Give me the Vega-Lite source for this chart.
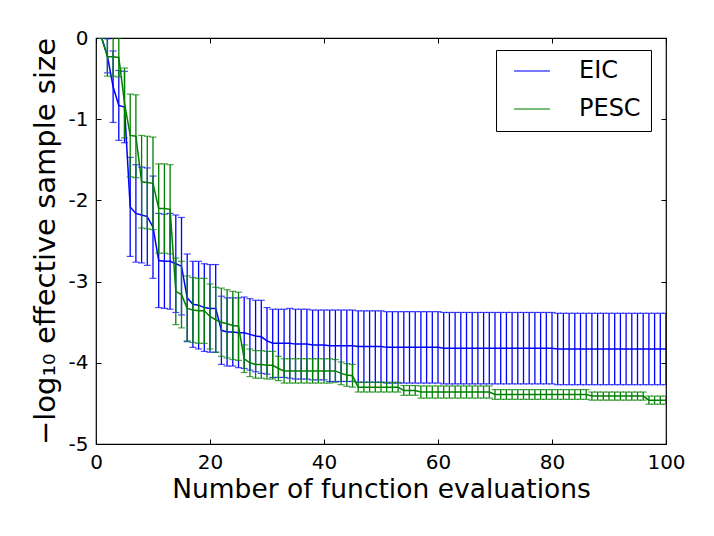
{
  "$schema": "https://vega.github.io/schema/vega-lite/v6.json",
  "description": "EIC vs PESC, -log10 effective sample size against number of function evaluations.",
  "width": 570,
  "height": 406,
  "autosize": "none",
  "padding": {"left": 96, "top": 38, "right": 48, "bottom": 92},
  "background": "white",
  "data": {
    "values": [
      {"x": 1, "s": "EIC", "m": 0, "e": 0},
      {"x": 2, "s": "EIC", "m": -0.22, "e": 0.21},
      {"x": 3, "s": "EIC", "m": -0.6, "e": 0.44},
      {"x": 4, "s": "EIC", "m": -0.83, "e": 0.43},
      {"x": 5, "s": "EIC", "m": -0.85, "e": 0.44},
      {"x": 6, "s": "EIC", "m": -2.08, "e": 0.61},
      {"x": 7, "s": "EIC", "m": -2.16, "e": 0.6},
      {"x": 8, "s": "EIC", "m": -2.18, "e": 0.59},
      {"x": 9, "s": "EIC", "m": -2.2, "e": 0.6},
      {"x": 10, "s": "EIC", "m": -2.33, "e": 0.63},
      {"x": 11, "s": "EIC", "m": -2.74, "e": 0.58},
      {"x": 12, "s": "EIC", "m": -2.75, "e": 0.58},
      {"x": 13, "s": "EIC", "m": -2.75, "e": 0.59},
      {"x": 14, "s": "EIC", "m": -2.78, "e": 0.6},
      {"x": 15, "s": "EIC", "m": -2.81, "e": 0.6},
      {"x": 16, "s": "EIC", "m": -3.2, "e": 0.54},
      {"x": 17, "s": "EIC", "m": -3.28, "e": 0.53},
      {"x": 18, "s": "EIC", "m": -3.29, "e": 0.54},
      {"x": 19, "s": "EIC", "m": -3.32, "e": 0.54},
      {"x": 20, "s": "EIC", "m": -3.33, "e": 0.54},
      {"x": 21, "s": "EIC", "m": -3.33, "e": 0.54},
      {"x": 22, "s": "EIC", "m": -3.6, "e": 0.42},
      {"x": 23, "s": "EIC", "m": -3.62, "e": 0.42},
      {"x": 24, "s": "EIC", "m": -3.62, "e": 0.42},
      {"x": 25, "s": "EIC", "m": -3.63, "e": 0.43},
      {"x": 26, "s": "EIC", "m": -3.63, "e": 0.44},
      {"x": 27, "s": "EIC", "m": -3.65, "e": 0.44},
      {"x": 28, "s": "EIC", "m": -3.67, "e": 0.44},
      {"x": 29, "s": "EIC", "m": -3.68, "e": 0.45},
      {"x": 30, "s": "EIC", "m": -3.73, "e": 0.41},
      {"x": 31, "s": "EIC", "m": -3.76, "e": 0.42},
      {"x": 32, "s": "EIC", "m": -3.76, "e": 0.42},
      {"x": 33, "s": "EIC", "m": -3.76, "e": 0.42},
      {"x": 34, "s": "EIC", "m": -3.76, "e": 0.43},
      {"x": 35, "s": "EIC", "m": -3.77, "e": 0.43},
      {"x": 36, "s": "EIC", "m": -3.77, "e": 0.43},
      {"x": 37, "s": "EIC", "m": -3.77, "e": 0.43},
      {"x": 38, "s": "EIC", "m": -3.78, "e": 0.43},
      {"x": 39, "s": "EIC", "m": -3.78, "e": 0.43},
      {"x": 40, "s": "EIC", "m": -3.78, "e": 0.43},
      {"x": 41, "s": "EIC", "m": -3.79, "e": 0.44},
      {"x": 42, "s": "EIC", "m": -3.79, "e": 0.44},
      {"x": 43, "s": "EIC", "m": -3.79, "e": 0.44},
      {"x": 44, "s": "EIC", "m": -3.79, "e": 0.44},
      {"x": 45, "s": "EIC", "m": -3.79, "e": 0.44},
      {"x": 46, "s": "EIC", "m": -3.8, "e": 0.44},
      {"x": 47, "s": "EIC", "m": -3.8, "e": 0.44},
      {"x": 48, "s": "EIC", "m": -3.8, "e": 0.44},
      {"x": 49, "s": "EIC", "m": -3.8, "e": 0.44},
      {"x": 50, "s": "EIC", "m": -3.8, "e": 0.44},
      {"x": 51, "s": "EIC", "m": -3.81, "e": 0.44},
      {"x": 52, "s": "EIC", "m": -3.81, "e": 0.44},
      {"x": 53, "s": "EIC", "m": -3.81, "e": 0.44},
      {"x": 54, "s": "EIC", "m": -3.81, "e": 0.44},
      {"x": 55, "s": "EIC", "m": -3.81, "e": 0.44},
      {"x": 56, "s": "EIC", "m": -3.81, "e": 0.44},
      {"x": 57, "s": "EIC", "m": -3.81, "e": 0.44},
      {"x": 58, "s": "EIC", "m": -3.81, "e": 0.44},
      {"x": 59, "s": "EIC", "m": -3.81, "e": 0.44},
      {"x": 60, "s": "EIC", "m": -3.81, "e": 0.44},
      {"x": 61, "s": "EIC", "m": -3.82, "e": 0.44},
      {"x": 62, "s": "EIC", "m": -3.82, "e": 0.44},
      {"x": 63, "s": "EIC", "m": -3.82, "e": 0.44},
      {"x": 64, "s": "EIC", "m": -3.82, "e": 0.44},
      {"x": 65, "s": "EIC", "m": -3.82, "e": 0.44},
      {"x": 66, "s": "EIC", "m": -3.82, "e": 0.44},
      {"x": 67, "s": "EIC", "m": -3.82, "e": 0.44},
      {"x": 68, "s": "EIC", "m": -3.82, "e": 0.44},
      {"x": 69, "s": "EIC", "m": -3.82, "e": 0.44},
      {"x": 70, "s": "EIC", "m": -3.82, "e": 0.44},
      {"x": 71, "s": "EIC", "m": -3.82, "e": 0.44},
      {"x": 72, "s": "EIC", "m": -3.82, "e": 0.44},
      {"x": 73, "s": "EIC", "m": -3.82, "e": 0.44},
      {"x": 74, "s": "EIC", "m": -3.82, "e": 0.44},
      {"x": 75, "s": "EIC", "m": -3.82, "e": 0.44},
      {"x": 76, "s": "EIC", "m": -3.82, "e": 0.44},
      {"x": 77, "s": "EIC", "m": -3.82, "e": 0.44},
      {"x": 78, "s": "EIC", "m": -3.82, "e": 0.44},
      {"x": 79, "s": "EIC", "m": -3.82, "e": 0.44},
      {"x": 80, "s": "EIC", "m": -3.82, "e": 0.44},
      {"x": 81, "s": "EIC", "m": -3.83, "e": 0.44},
      {"x": 82, "s": "EIC", "m": -3.83, "e": 0.44},
      {"x": 83, "s": "EIC", "m": -3.83, "e": 0.44},
      {"x": 84, "s": "EIC", "m": -3.83, "e": 0.44},
      {"x": 85, "s": "EIC", "m": -3.83, "e": 0.44},
      {"x": 86, "s": "EIC", "m": -3.83, "e": 0.44},
      {"x": 87, "s": "EIC", "m": -3.83, "e": 0.44},
      {"x": 88, "s": "EIC", "m": -3.83, "e": 0.44},
      {"x": 89, "s": "EIC", "m": -3.83, "e": 0.44},
      {"x": 90, "s": "EIC", "m": -3.83, "e": 0.44},
      {"x": 91, "s": "EIC", "m": -3.83, "e": 0.44},
      {"x": 92, "s": "EIC", "m": -3.83, "e": 0.44},
      {"x": 93, "s": "EIC", "m": -3.83, "e": 0.44},
      {"x": 94, "s": "EIC", "m": -3.83, "e": 0.44},
      {"x": 95, "s": "EIC", "m": -3.83, "e": 0.44},
      {"x": 96, "s": "EIC", "m": -3.83, "e": 0.44},
      {"x": 97, "s": "EIC", "m": -3.83, "e": 0.44},
      {"x": 98, "s": "EIC", "m": -3.83, "e": 0.44},
      {"x": 99, "s": "EIC", "m": -3.83, "e": 0.44},
      {"x": 100, "s": "EIC", "m": -3.83, "e": 0.44},
      {"x": 1, "s": "PESC", "m": 0, "e": 0},
      {"x": 2, "s": "PESC", "m": -0.23, "e": 0.24},
      {"x": 3, "s": "PESC", "m": -0.23, "e": 0.24},
      {"x": 4, "s": "PESC", "m": -0.24, "e": 0.24},
      {"x": 5, "s": "PESC", "m": -0.8, "e": 0.43},
      {"x": 6, "s": "PESC", "m": -1.2, "e": 0.51},
      {"x": 7, "s": "PESC", "m": -1.21, "e": 0.51},
      {"x": 8, "s": "PESC", "m": -1.77, "e": 0.57},
      {"x": 9, "s": "PESC", "m": -1.78, "e": 0.57},
      {"x": 10, "s": "PESC", "m": -1.79, "e": 0.57},
      {"x": 11, "s": "PESC", "m": -2.1, "e": 0.55},
      {"x": 12, "s": "PESC", "m": -2.1, "e": 0.55},
      {"x": 13, "s": "PESC", "m": -2.11, "e": 0.55},
      {"x": 14, "s": "PESC", "m": -3.12, "e": 0.41},
      {"x": 15, "s": "PESC", "m": -3.16, "e": 0.41},
      {"x": 16, "s": "PESC", "m": -3.33, "e": 0.4},
      {"x": 17, "s": "PESC", "m": -3.35, "e": 0.4},
      {"x": 18, "s": "PESC", "m": -3.36, "e": 0.4},
      {"x": 19, "s": "PESC", "m": -3.36, "e": 0.4},
      {"x": 20, "s": "PESC", "m": -3.43, "e": 0.4},
      {"x": 21, "s": "PESC", "m": -3.47, "e": 0.4},
      {"x": 22, "s": "PESC", "m": -3.5, "e": 0.42},
      {"x": 23, "s": "PESC", "m": -3.52, "e": 0.42},
      {"x": 24, "s": "PESC", "m": -3.54, "e": 0.42},
      {"x": 25, "s": "PESC", "m": -3.55, "e": 0.42},
      {"x": 26, "s": "PESC", "m": -3.95, "e": 0.17},
      {"x": 27, "s": "PESC", "m": -4.0, "e": 0.17},
      {"x": 28, "s": "PESC", "m": -4.02, "e": 0.17},
      {"x": 29, "s": "PESC", "m": -4.02, "e": 0.17},
      {"x": 30, "s": "PESC", "m": -4.03, "e": 0.17},
      {"x": 31, "s": "PESC", "m": -4.03, "e": 0.17},
      {"x": 32, "s": "PESC", "m": -4.07, "e": 0.15},
      {"x": 33, "s": "PESC", "m": -4.1, "e": 0.15},
      {"x": 34, "s": "PESC", "m": -4.1, "e": 0.15},
      {"x": 35, "s": "PESC", "m": -4.1, "e": 0.15},
      {"x": 36, "s": "PESC", "m": -4.1, "e": 0.15},
      {"x": 37, "s": "PESC", "m": -4.1, "e": 0.15},
      {"x": 38, "s": "PESC", "m": -4.1, "e": 0.15},
      {"x": 39, "s": "PESC", "m": -4.1, "e": 0.15},
      {"x": 40, "s": "PESC", "m": -4.1, "e": 0.15},
      {"x": 41, "s": "PESC", "m": -4.1, "e": 0.15},
      {"x": 42, "s": "PESC", "m": -4.1, "e": 0.14},
      {"x": 43, "s": "PESC", "m": -4.13, "e": 0.14},
      {"x": 44, "s": "PESC", "m": -4.15, "e": 0.14},
      {"x": 45, "s": "PESC", "m": -4.16, "e": 0.14},
      {"x": 46, "s": "PESC", "m": -4.3, "e": 0.06},
      {"x": 47, "s": "PESC", "m": -4.3, "e": 0.06},
      {"x": 48, "s": "PESC", "m": -4.3, "e": 0.06},
      {"x": 49, "s": "PESC", "m": -4.3, "e": 0.06},
      {"x": 50, "s": "PESC", "m": -4.3, "e": 0.06},
      {"x": 51, "s": "PESC", "m": -4.3, "e": 0.06},
      {"x": 52, "s": "PESC", "m": -4.3, "e": 0.06},
      {"x": 53, "s": "PESC", "m": -4.3, "e": 0.06},
      {"x": 54, "s": "PESC", "m": -4.34, "e": 0.06},
      {"x": 55, "s": "PESC", "m": -4.34, "e": 0.06},
      {"x": 56, "s": "PESC", "m": -4.34, "e": 0.06},
      {"x": 57, "s": "PESC", "m": -4.36, "e": 0.075},
      {"x": 58, "s": "PESC", "m": -4.36, "e": 0.075},
      {"x": 59, "s": "PESC", "m": -4.36, "e": 0.075},
      {"x": 60, "s": "PESC", "m": -4.36, "e": 0.075},
      {"x": 61, "s": "PESC", "m": -4.36, "e": 0.075},
      {"x": 62, "s": "PESC", "m": -4.36, "e": 0.075},
      {"x": 63, "s": "PESC", "m": -4.36, "e": 0.075},
      {"x": 64, "s": "PESC", "m": -4.36, "e": 0.075},
      {"x": 65, "s": "PESC", "m": -4.36, "e": 0.075},
      {"x": 66, "s": "PESC", "m": -4.36, "e": 0.075},
      {"x": 67, "s": "PESC", "m": -4.36, "e": 0.075},
      {"x": 68, "s": "PESC", "m": -4.36, "e": 0.075},
      {"x": 69, "s": "PESC", "m": -4.36, "e": 0.075},
      {"x": 70, "s": "PESC", "m": -4.39, "e": 0.06},
      {"x": 71, "s": "PESC", "m": -4.39, "e": 0.06},
      {"x": 72, "s": "PESC", "m": -4.39, "e": 0.06},
      {"x": 73, "s": "PESC", "m": -4.39, "e": 0.06},
      {"x": 74, "s": "PESC", "m": -4.39, "e": 0.06},
      {"x": 75, "s": "PESC", "m": -4.39, "e": 0.06},
      {"x": 76, "s": "PESC", "m": -4.39, "e": 0.06},
      {"x": 77, "s": "PESC", "m": -4.39, "e": 0.06},
      {"x": 78, "s": "PESC", "m": -4.39, "e": 0.06},
      {"x": 79, "s": "PESC", "m": -4.39, "e": 0.06},
      {"x": 80, "s": "PESC", "m": -4.39, "e": 0.06},
      {"x": 81, "s": "PESC", "m": -4.39, "e": 0.06},
      {"x": 82, "s": "PESC", "m": -4.39, "e": 0.06},
      {"x": 83, "s": "PESC", "m": -4.39, "e": 0.06},
      {"x": 84, "s": "PESC", "m": -4.39, "e": 0.06},
      {"x": 85, "s": "PESC", "m": -4.39, "e": 0.06},
      {"x": 86, "s": "PESC", "m": -4.39, "e": 0.06},
      {"x": 87, "s": "PESC", "m": -4.41, "e": 0.05},
      {"x": 88, "s": "PESC", "m": -4.41, "e": 0.05},
      {"x": 89, "s": "PESC", "m": -4.41, "e": 0.05},
      {"x": 90, "s": "PESC", "m": -4.41, "e": 0.05},
      {"x": 91, "s": "PESC", "m": -4.41, "e": 0.05},
      {"x": 92, "s": "PESC", "m": -4.41, "e": 0.05},
      {"x": 93, "s": "PESC", "m": -4.41, "e": 0.05},
      {"x": 94, "s": "PESC", "m": -4.41, "e": 0.05},
      {"x": 95, "s": "PESC", "m": -4.41, "e": 0.05},
      {"x": 96, "s": "PESC", "m": -4.41, "e": 0.05},
      {"x": 97, "s": "PESC", "m": -4.46, "e": 0.05},
      {"x": 98, "s": "PESC", "m": -4.46, "e": 0.05},
      {"x": 99, "s": "PESC", "m": -4.46, "e": 0.05},
      {"x": 100, "s": "PESC", "m": -4.46, "e": 0.05}
    ]
  },
  "config": {
    "font": "DejaVu Sans",
    "view": {"stroke": "black", "strokeWidth": 1.2},
    "axis": {
      "grid": false,
      "domain": false,
      "tickColor": "black",
      "tickSize": -5,
      "tickWidth": 1,
      "labelColor": "black",
      "labelFont": "DejaVu Sans",
      "labelFontSize": 20,
      "labelFlush": false,
      "labelOverlap": false,
      "titleColor": "black",
      "titleFont": "DejaVu Sans",
      "titleFontWeight": "normal"
    },
    "legend": {
      "orient": "none",
      "legendX": 400,
      "legendY": 12,
      "strokeColor": "black",
      "fillColor": "white",
      "cornerRadius": 0,
      "padding": 10,
      "symbolType": "stroke",
      "symbolSize": 1296,
      "symbolStrokeWidth": 1.5,
      "symbolOffset": 7,
      "clipHeight": 22,
      "rowPadding": 14,
      "labelOffset": 28,
      "labelFont": "DejaVu Sans",
      "labelFontSize": 24,
      "labelColor": "black"
    }
  },
  "resolve": {"axis": {"x": "independent", "y": "independent"}},
  "layer": [
    {
      "transform": [{"filter": "datum.s === 'EIC'"}],
      "mark": {"type": "errorbar", "ticks": {"size": 7, "thickness": 1.2}, "thickness": 1.3, "clip": true},
      "encoding": {
        "x": {"field": "x", "type": "quantitative", "scale": {"domain": [0, 100], "nice": false},
              "axis": {"orient": "bottom", "values": [0, 20, 40, 60, 80, 100], "labelPadding": 13,
                       "title": "Number of function evaluations", "titleFontSize": 26.5, "titlePadding": 4}},
        "y": {"field": "m", "type": "quantitative", "scale": {"domain": [-5, 0], "nice": false, "zero": false},
              "axis": {"orient": "left", "values": [-5, -4, -3, -2, -1, 0], "labelPadding": 13,
                       "labelExpr": "replace(datum.label, '−', '-')",
                       "title": "−log₁₀ effective sample size", "titleFontSize": 29, "titlePadding": 8}},
        "yError": {"field": "e"},
        "color": {"field": "s", "type": "nominal", "title": null,
                  "scale": {"domain": ["EIC", "PESC"], "range": ["#0000ff", "#008000"]}}
      }
    },
    {
      "transform": [{"filter": "datum.s === 'EIC'"}],
      "mark": {"type": "line", "strokeWidth": 1.5, "clip": true},
      "encoding": {
        "x": {"field": "x", "type": "quantitative",
              "axis": {"orient": "top", "values": [0, 20, 40, 60, 80, 100], "labels": false, "title": null}},
        "y": {"field": "m", "type": "quantitative",
              "axis": {"orient": "right", "values": [-5, -4, -3, -2, -1, 0], "labels": false, "title": null}},
        "color": {"field": "s", "type": "nominal", "title": null}
      }
    },
    {
      "transform": [{"filter": "datum.s === 'PESC'"}],
      "mark": {"type": "errorbar", "ticks": {"size": 7, "thickness": 1.2}, "thickness": 1.3, "clip": true},
      "encoding": {
        "x": {"field": "x", "type": "quantitative", "axis": null},
        "y": {"field": "m", "type": "quantitative", "axis": null},
        "yError": {"field": "e"},
        "color": {"field": "s", "type": "nominal", "title": null}
      }
    },
    {
      "transform": [{"filter": "datum.s === 'PESC'"}],
      "mark": {"type": "line", "strokeWidth": 1.5, "clip": true},
      "encoding": {
        "x": {"field": "x", "type": "quantitative", "axis": null},
        "y": {"field": "m", "type": "quantitative", "axis": null},
        "color": {"field": "s", "type": "nominal", "title": null}
      }
    }
  ]
}
